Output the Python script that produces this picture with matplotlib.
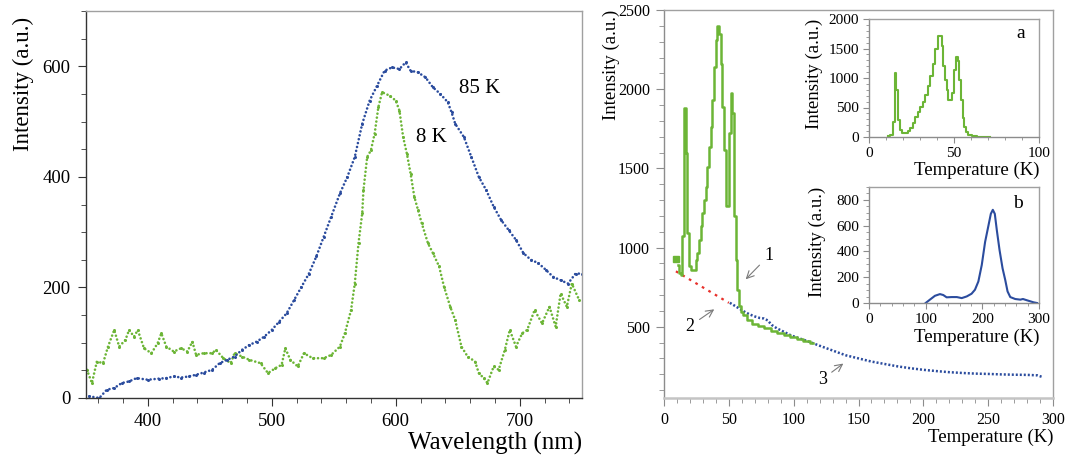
import matplotlib
matplotlib.use("Agg")
import matplotlib.pyplot as plt
from matplotlib.ticker import MultipleLocator

plt.rcParams['font.family'] = ['Liberation Serif', 'DejaVu Serif']

# ---- left panel: emission spectra ----
wl_85k = [353, 361, 367, 373, 379, 385, 391, 400, 409, 415, 421, 427, 433, 439, 445,
          452, 458, 464, 470, 476, 482, 488, 494, 500, 506, 512, 518, 524, 530, 536,
          542, 548, 555, 561, 567, 573, 579, 585, 591, 597, 603, 608, 612, 618, 624,
          630, 636, 642, 645, 648, 655, 661, 667, 673, 679, 685, 691, 697, 703, 709,
          715, 721, 727, 733, 739, 745, 750]
int_85k = [3, 0, 15, 18, 27, 30, 36, 33, 35, 36, 39, 37, 39, 42, 46,
           51, 63, 69, 75, 87, 96, 102, 111, 123, 138, 153, 177, 201, 225, 256,
           292, 328, 370, 400, 436, 496, 538, 565, 592, 598, 595, 607, 592, 589, 580,
           562, 550, 535, 517, 496, 472, 436, 400, 376, 346, 322, 304, 286, 262, 250,
           244, 232, 219, 213, 207, 225, 225]

wl_8k = [351, 355, 359, 364, 368, 373, 377, 382, 385, 389, 392, 397, 403, 408, 411,
         415, 421, 427, 432, 436, 439, 445, 452, 455, 461, 467, 470, 476, 482, 491,
         497, 503, 508, 511, 515, 521, 526, 533, 542, 548, 555, 559, 564, 567, 570,
         573, 574, 577, 580, 583, 586, 589, 595, 600, 603, 606, 609, 612, 615, 618,
         621, 626, 630, 635, 639, 644, 648, 653, 658, 664, 667, 671, 674, 679, 683,
         688, 692, 697, 702, 706, 712, 718, 724, 729, 733, 738, 742, 748]
int_8k = [51, 27, 66, 63, 93, 123, 93, 105, 123, 111, 123, 90, 81, 99, 117,
          93, 84, 90, 84, 102, 78, 81, 81, 87, 72, 63, 81, 75, 69, 63,
          45, 54, 60, 90, 69, 57, 81, 72, 72, 78, 93, 117, 159, 207, 280,
          334, 376, 436, 448, 478, 526, 553, 547, 538, 520, 472, 442, 406, 364, 340,
          316, 280, 262, 238, 201, 165, 141, 93, 75, 66, 45, 36, 27, 57, 51,
          87, 123, 93, 117, 123, 159, 135, 165, 129, 189, 165, 207, 177]

# ---- right panel: temperature curves ----
t_green = [11, 12.3, 13.6, 14.9, 16.2, 17.4, 18.7, 20, 21.3, 23.8, 25, 26.4, 27.7, 29,
           30.3, 31.5, 32.8, 34.1, 35.4, 36.7, 38, 39.2, 40.5, 41.8, 43, 44.4, 45.6,
           46.9, 48.2, 49.5, 50.8, 52, 53.3, 54.6, 55.9, 57.2, 58.5, 60, 62, 66, 70,
           75, 80, 85, 90, 95, 100, 105, 110, 115]
i_green = [892, 840, 829, 1070, 1883, 1595, 1092, 882, 857, 857, 924, 966, 1050, 1134,
           1218, 1301, 1385, 1511, 1637, 1763, 1931, 2141, 2308, 2397, 2350, 2162, 1889,
           1616, 1260, 1260, 1721, 1973, 1847, 1197, 924, 735, 630, 595, 575, 540, 520,
           505, 490, 475, 462, 450, 436, 422, 410, 400]
t_start, i_start = [9.2], [928]

t_red = [9.2, 50]
i_red = [850, 651]

t_blue = [50.8, 54, 58, 62, 66, 70, 74, 77, 80, 83, 87, 92, 98, 105, 112, 120, 130,
          140, 150, 160, 170, 180, 190, 200, 210, 220, 230, 240, 250, 260, 270, 280,
          288, 292]
i_blue = [651, 635, 615, 595, 578, 565, 555, 552, 540, 512, 490, 470, 445, 425, 405,
          380, 350, 320, 300, 280, 265, 250, 238, 228, 220, 213, 208, 204, 202, 199,
          197, 196, 193, 182]

# inset a
ta = [11.2, 13.2, 14.6, 15.6, 16.5, 17.5, 18.5, 20.1, 22, 23.6, 25, 26.4, 28, 29.5,
      30.9, 32.3, 33.9, 35.4, 36.8, 38.2, 39.8, 41.1, 42.3, 43.3, 44.3, 45.3, 46.3,
      47.2, 48.6, 49.6, 50.6, 51.6, 52.6, 53.5, 54.5, 55.5, 56.5, 57.5, 59.4, 61.4,
      65.4, 71.3]
ia = [11, 29, 257, 1086, 800, 286, 114, 69, 69, 97, 154, 240, 343, 429,
      514, 600, 714, 857, 1029, 1229, 1486, 1714, 1714, 1543, 1200, 971, 800,
      629, 629, 743, 1143, 1360, 1286, 971, 629, 314, 171, 86, 29, 11,
      6, 6]

# inset b
tb = [100, 107.5, 116.4, 125.2, 131, 137, 146, 155, 163.6, 172.5, 181, 187, 193, 199,
      204.9, 210.9, 215, 218.5, 222, 225.6, 230.4, 235.7, 240.4, 244.5, 249.3, 258,
      267, 271.7, 278.8, 290.6, 296.5]
ib = [0, 26, 56, 69, 62, 44, 46, 46, 38, 51, 72, 103, 167, 295,
      474, 603, 692, 723, 692, 564, 410, 269, 179, 90, 46, 31,
      26, 31, 21, 5, 0]

BLUE = '#2b4c9e'
GREEN = '#6cb536'
RED = '#e8302a'
GRAY = '#8c8c8c'

fig = plt.figure(figsize=(10.73, 4.59), dpi=100)


def style_axes(ax, dark=False):
    for s in ax.spines.values():
        s.set_color('#a0a0a0')
        s.set_linewidth(1.0)
    c = '#333333' if dark else GRAY
    ax.spines['left'].set_color(c)
    ax.spines['bottom'].set_color(c)
    ax.tick_params(which='both', direction='out', color=c, top=False, right=False)
    ax.tick_params(which='major', length=6)
    ax.tick_params(which='minor', length=3.5)


# -------- left panel --------
ax1 = fig.add_axes([85.7 / 1073, 1 - 398 / 459, 496 / 1073, 387 / 459])
style_axes(ax1, dark=True)
dots = dict(lw=1.9, ls=(0, (0.01, 1.5)), dash_capstyle='round')
ax1.plot(wl_8k, int_8k, color=GREEN, **dots)
ax1.plot(wl_8k, int_8k, 'o', color=GREEN, ms=2.2, mew=0)
ax1.plot(wl_85k, int_85k, color=BLUE, **dots)
ax1.plot(wl_85k, int_85k, 'o', color=BLUE, ms=2.2, mew=0)
ax1.set_xlim(350, 750)
ax1.set_ylim(0, 700)
ax1.xaxis.set_major_locator(MultipleLocator(100))
ax1.xaxis.set_minor_locator(MultipleLocator(20))
ax1.yaxis.set_major_locator(MultipleLocator(200))
ax1.yaxis.set_minor_locator(MultipleLocator(50))
ax1.tick_params(labelsize=13.5, pad=5)
ax1.set_xlabel('Wavelength (nm)', fontsize=18, loc='right')
ax1.xaxis.set_label_coords(1.0, -0.088)
ax1.xaxis.label.set_va('top')
ax1.set_ylabel('Intensity (a.u.)', fontsize=16.5, loc='top')
ax1.yaxis.set_label_coords(-0.105, 0.985)
ax1.text(651, 559, '85 K', fontsize=15, va='center')
ax1.text(616, 472, '8 K', fontsize=15, va='center')

# -------- right panel --------
ax2 = fig.add_axes([664 / 1073, 1 - 398 / 459, 389 / 1073, 388 / 459])
style_axes(ax2)
ax2.spines['bottom'].set_color('#c4c4c4')
ax2.spines['bottom'].set_linewidth(1.8)
ax2.plot(t_red, i_red, color=RED, lw=1.6, ls=(0, (1.2, 2.2)))
ax2.plot(t_blue, i_blue, color=BLUE, lw=1.8, ls=(0, (0.8, 0.8)))
ax2.plot(t_green, i_green, color=GREEN, lw=1.8, drawstyle='steps-mid')
ax2.plot(t_start, i_start, 's', color=GREEN, ms=4)
ax2.set_xlim(0, 300)
ax2.set_ylim(50, 2500)
ax2.xaxis.set_major_locator(MultipleLocator(50))
ax2.xaxis.set_minor_locator(MultipleLocator(10))
ax2.yaxis.set_major_locator(MultipleLocator(500))
ax2.yaxis.set_minor_locator(MultipleLocator(100))
ax2.tick_params(labelsize=11.5, pad=4)
ax2.set_xlabel('Temperature (K)', fontsize=13.5, loc='right')
ax2.xaxis.set_label_coords(1.0, -0.08)
ax2.xaxis.label.set_va('top')
ax2.set_ylabel('Intensity (a.u.)', fontsize=13.5, loc='top')
ax2.yaxis.set_label_coords(-0.112, 1.0)

arrow = dict(arrowstyle='->', color='#7a7a7a', lw=0.8)
ax2.annotate('1', xy=(61.5, 787), xytext=(80.8, 949), fontsize=13, ha='center',
             va='center', arrowprops=arrow)
ax2.annotate('2', xy=(40.5, 620), xytext=(20, 504), fontsize=13, ha='center',
             va='center', arrowprops=arrow)
ax2.annotate('3', xy=(140, 278), xytext=(122, 168), fontsize=13, ha='center',
             va='center', arrowprops=arrow)

# inset a
axa = fig.add_axes([869 / 1073, 1 - 137 / 459, 170 / 1073, 118 / 459])
style_axes(axa)
axa.plot(ta, ia, color=GREEN, lw=1.5, drawstyle='steps-mid')
axa.set_xlim(0, 100)
axa.set_ylim(0, 2000)
axa.xaxis.set_major_locator(MultipleLocator(50))
axa.xaxis.set_minor_locator(MultipleLocator(10))
axa.yaxis.set_major_locator(MultipleLocator(500))
axa.yaxis.set_minor_locator(MultipleLocator(100))
axa.tick_params(labelsize=11, pad=3)
axa.tick_params(which='major', length=4)
axa.tick_params(which='minor', length=2.5)
axa.set_xlabel('Temperature (K)', fontsize=13.5, loc='right')
axa.xaxis.set_label_coords(1.0, -0.205)
axa.xaxis.label.set_va('top')
axa.set_ylabel('Intensity (a.u.)', fontsize=13.5, loc='top')
axa.yaxis.set_label_coords(-0.27, 1.0)
axa.text(0.89, 0.88, 'a', transform=axa.transAxes, fontsize=14, ha='center', va='center')

# inset b
axb = fig.add_axes([869 / 1073, 1 - 303 / 459, 170 / 1073, 116 / 459])
style_axes(axb)
axb.plot(tb, ib, color=BLUE, lw=1.5)
axb.set_xlim(0, 300)
axb.set_ylim(0, 900)
axb.xaxis.set_major_locator(MultipleLocator(100))
axb.xaxis.set_minor_locator(MultipleLocator(20))
axb.yaxis.set_major_locator(MultipleLocator(200))
axb.yaxis.set_minor_locator(MultipleLocator(50))
axb.tick_params(labelsize=11, pad=3)
axb.tick_params(which='major', length=4)
axb.tick_params(which='minor', length=2.5)
axb.set_xlabel('Temperature (K)', fontsize=13.5, loc='right')
axb.xaxis.set_label_coords(1.0, -0.225)
axb.xaxis.label.set_va('top')
axb.set_ylabel('Intensity (a.u.)', fontsize=13.5, loc='top')
axb.yaxis.set_label_coords(-0.25, 1.0)
axb.text(0.876, 0.86, 'b', transform=axb.transAxes, fontsize=14, ha='center', va='center')

fig.savefig('out.png', dpi=100)
